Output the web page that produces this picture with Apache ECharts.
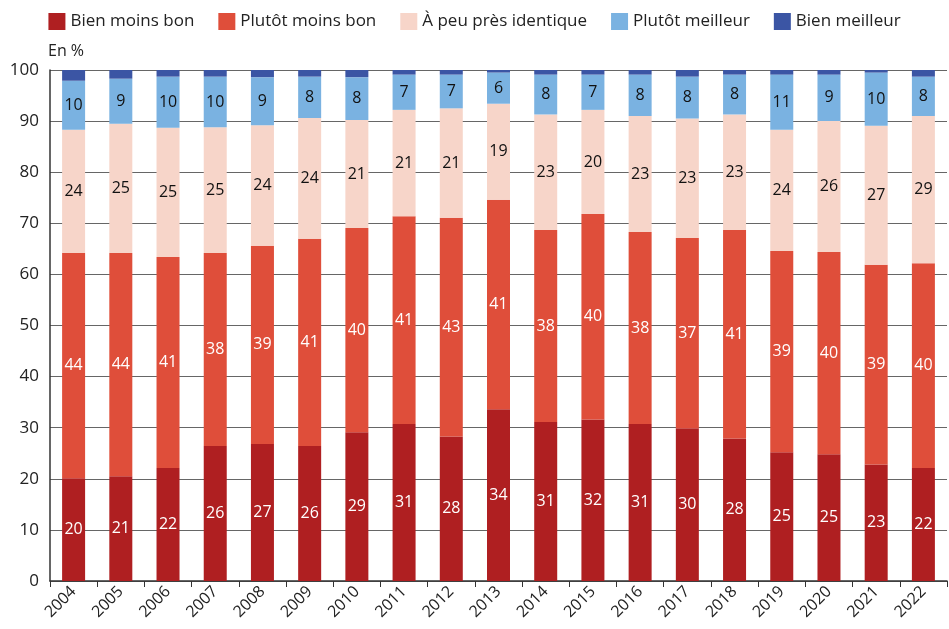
<!DOCTYPE html>
<html>
<head>
<meta charset="utf-8">
<script src="https://cdn.jsdelivr.net/npm/echarts@6/dist/echarts.min.js"></script>
<style>
  html, body { margin: 0; padding: 0; background: #fff; }
  #main { width: 949px; height: 629px; }
</style>
</head>
<body>
<div id="main"></div>
<script>
// annees
var years = ['2004', '2005', '2006', '2007', '2008', '2009', '2010', '2011', '2012', '2013',
             '2014', '2015', '2016', '2017', '2018', '2019', '2020', '2021', '2022'];

// parts en %
var bienMoinsBon    = [20.1, 20.5, 22.1, 26.4, 26.8, 26.4, 29.1, 30.7, 28.3, 33.6, 31.1, 31.6, 30.7, 29.9, 27.9, 25.2, 24.8, 22.8, 22.1];
var plutotMoinsBon  = [44.1, 43.7, 41.3, 37.8, 38.8, 40.6, 40.0, 40.7, 42.8, 41.0, 37.6, 40.2, 37.6, 37.2, 40.8, 39.4, 39.6, 39.1, 40.1];
var identique       = [24.1, 25.3, 25.3, 24.6, 23.6, 23.6, 21.1, 20.8, 21.4, 18.8, 22.6, 20.4, 22.7, 23.4, 22.6, 23.7, 25.6, 27.2, 28.8];
var plutotMeilleur  = [9.6, 8.8, 10.0, 9.9, 9.4, 8.1, 8.4, 6.9, 6.6, 6.1, 7.8, 6.9, 8.1, 8.2, 7.8, 10.8, 9.1, 10.4, 7.7];
var bienMeilleur    = [2.1, 1.7, 1.3, 1.3, 1.4, 1.3, 1.4, 0.9, 0.9, 0.5, 0.9, 0.9, 0.9, 1.3, 0.9, 0.9, 0.9, 0.5, 1.3];

var yTicks = [0, 10, 20, 30, 40, 50, 60, 70, 80, 90, 100];

var FONT = 'Open Sans';

function serie(name, data, color, labelColor) {
    return {
        name: name,
        type: 'bar',
        stack: 'total',
        barWidth: 23,
        data: data,
        itemStyle: { color: color },
        label: {
            show: labelColor != null,
            position: 'inside',
            color: labelColor,
            fontFamily: FONT,
            fontSize: 16,
            formatter: function (p) { return Math.round(p.value); }
        }
    };
}

var myChart = echarts.init(document.getElementById('main'));
myChart.setOption({
    animation: false,
    textStyle: { fontFamily: FONT },
    legend: {
        top: 8,
        left: 'center',
        itemWidth: 17,
        itemHeight: 17,
        itemGap: 24,
        icon: 'rect',
        textStyle: { fontFamily: FONT, fontSize: 17, color: '#222' }
    },
    grid: {
        left: 50,
        right: 2,
        top: 70,
        bottom: 48
    },
    xAxis: {
        type: 'category',
        data: years,
        axisLine: { lineStyle: { color: '#333', width: 1.5 } },
        axisTick: { show: true, length: 6, lineStyle: { color: '#333' } },
        axisLabel: { rotate: 45, fontSize: 16, color: '#222', fontFamily: FONT, margin: 8 }
    },
    yAxis: {
        type: 'value',
        name: 'En %',
        nameLocation: 'end',
        nameGap: 11,
        nameTextStyle: { fontFamily: FONT, fontSize: 16, color: '#222', align: 'left', padding: [0, 0, 0, -2] },
        min: yTicks[0],
        max: yTicks[yTicks.length - 1],
        interval: 10,
        axisLine: { show: true, lineStyle: { color: '#333', width: 1.5 } },
        axisTick: { show: false },
        axisLabel: { fontSize: 17, color: '#222', fontFamily: FONT, margin: 11 },
        splitLine: { lineStyle: { color: '#666', width: 1.2 } }
    },
    series: [
        serie('Bien moins bon', bienMoinsBon, '#AF1F21', '#fff'),
        serie('Plutôt moins bon', plutotMoinsBon, '#DF4E3A', '#fff'),
        serie('À peu près identique', identique, '#F7D5C9', '#111'),
        serie('Plutôt meilleur', plutotMeilleur, '#7AB2E1', '#111'),
        serie('Bien meilleur', bienMeilleur, '#3B55A4', null)
    ]
});
</script>
</body>
</html>
